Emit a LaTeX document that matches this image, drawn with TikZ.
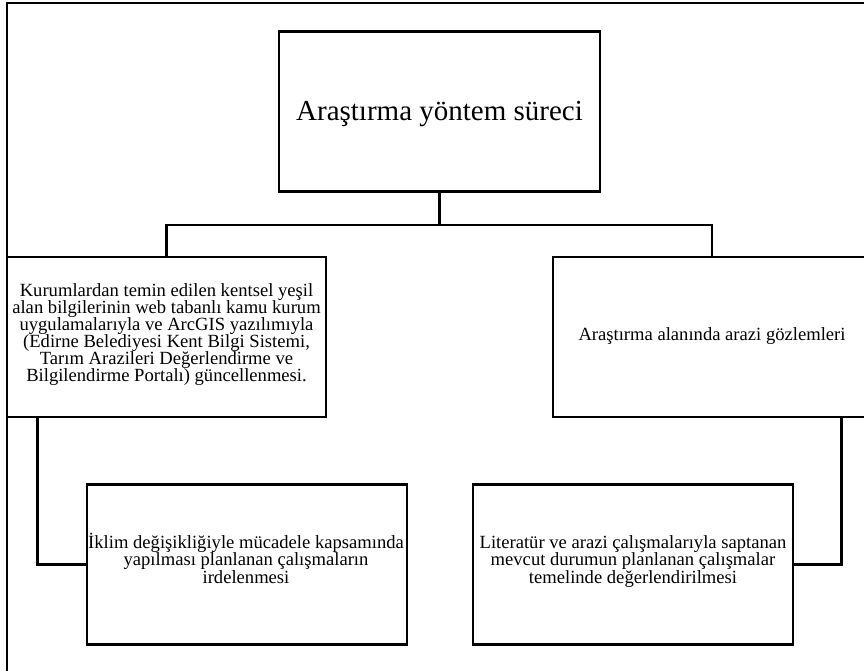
\documentclass[tikz,border=0pt]{standalone}
\usepackage{fontspec}
\setmainfont{Liberation Serif}
\newcommand\myboxfont{\fontsize{18.6}{17}\selectfont\lineskiplimit=-30pt\relax}
\newcommand\mylowfont{\fontsize{18.6}{17.5}\selectfont\lineskiplimit=-30pt\relax}
\begin{document}
\begin{tikzpicture}[x=1pt,y=-1pt,line width=2.6pt]
\tikzset{
  box/.style={draw, line width=2.6pt, rectangle, inner sep=0pt, align=center,
    minimum width=319pt, minimum height=160pt, font=\myboxfont},
  boxtext/.style={inner sep=0pt, align=center, anchor=base, font=\myboxfont},
  lowtext/.style={boxtext, font=\mylowfont},
}
\useasboundingbox (0,0) rectangle (864,670);
\clip (0,0) rectangle (864,670);
\fill[white] (0,0) rectangle (864,670);
% outer frame (cropped)
\draw (7,680) -- (7,3) -- (900,3);
\node[box, minimum width=321pt] (top) at (439.5,111.5) {};
\node[inner sep=0pt, anchor=base, font=\fontsize{29}{33}\selectfont] (toptext) at (439.5,120) {Araştırma yöntem süreci};
\node[box] (left) at (166.5,337) {};
\node[boxtext] (lefttext) at (166.5,381.7) {Kurumlardan temin edilen kentsel yeşil\\alan bilgilerinin web tabanlı kamu kurum\\uygulamalarıyla ve ArcGIS yazılımıyla\\(Edirne Belediyesi Kent Bilgi Sistemi,\\Tarım Arazileri Değerlendirme ve\\Bilgilendirme Portalı) güncellenmesi.};
\node[box, minimum width=318pt] (right) at (712,337) {};
\node[boxtext] (righttext) at (712,340.7) {Araştırma alanında arazi gözlemleri};
\node[box, minimum width=320pt] (ll) at (247,564.5) {};
\node[lowtext] (lltext) at (246,583.3) {İklim değişikliğiyle mücadele kapsamında\\yapılması planlanan çalışmaların\\irdelenmesi};
\node[box, minimum width=320pt] (lr) at (633,564.5) {};
\node[lowtext] (lrtext) at (633,583.3) {Literatür ve arazi çalışmalarıyla saptanan\\mevcut durumun planlanan çalışmalar\\temelinde değerlendirilmesi};
\coordinate (j) at ([yshift=-32pt]top.south);
\draw (top.south) -- (j);
\draw (left.north) |- (j) -| (right.north);
\draw ([xshift=32pt]left.south west) |- (ll.west);
\draw ([xshift=-31pt]right.south east) |- (lr.east);
\end{tikzpicture}
\end{document}
